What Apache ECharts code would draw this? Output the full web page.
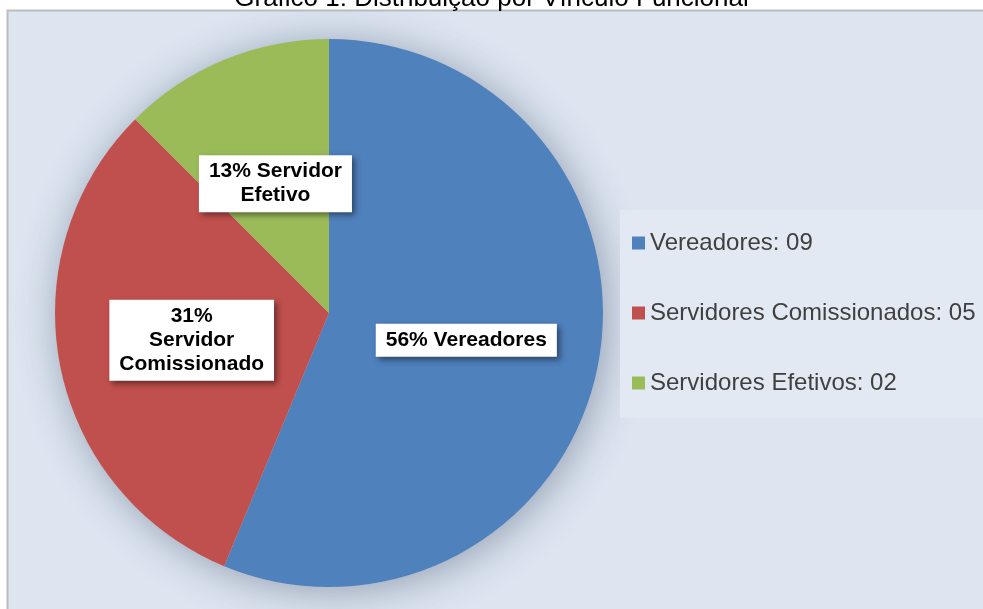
<!DOCTYPE html>
<html>
<head>
<meta charset="utf-8">
<script src="https://cdn.jsdelivr.net/npm/echarts@6/dist/echarts.min.js"></script>
<style>
  html, body { margin: 0; padding: 0; background: #fff; }
  #chart { width: 983px; height: 609px; }
</style>
</head>
<body>
<div id="chart"></div>
<script>
const categories = ['Vereadores', 'Servidores Comissionados', 'Servidores Efetivos'];
const values = [9, 5, 2];
const sliceLabels = ['56% Vereadores', '31%\nServidor\nComissionado', '13% Servidor\nEfetivo'];
const colors = ['#4f81bd', '#c0504d', '#9bbb59'];

const total = values.reduce((a, b) => a + b, 0);

const chart = echarts.init(document.getElementById('chart'));

const option = {
    backgroundColor: '#ffffff',
    title: {
        text: 'Gráfico 1: Distribuição por Vínculo Funcional',
        left: 'center',
        top: -19,
        textStyle: {
            fontFamily: 'Liberation Sans, Arial, sans-serif',
            fontSize: 26,
            fontWeight: 'normal',
            color: '#000'
        }
    },
    graphic: [
        {
            type: 'rect',
            z: -10,
            shape: { x: 7.5, y: 10.5, width: 990, height: 610 },
            style: { fill: '#dce5f0', stroke: '#bdbdbd', lineWidth: 2 }
        }
    ],
    legend: {
        orient: 'vertical',
        left: 620,
        top: 210,
        padding: [21, 60, 23, 12],
        backgroundColor: '#e3e9f2',
        itemWidth: 13,
        itemHeight: 13,
        itemGap: 46,
        icon: 'rect',
        data: categories,
        formatter: function (name) {
            const v = values[categories.indexOf(name)];
            return name + ': ' + String(v).padStart(2, '0');
        },
        textStyle: {
            fontFamily: 'Liberation Sans, Arial, sans-serif',
            fontSize: 24,
            lineHeight: 24,
            color: '#404040'
        }
    },
    series: [
        {
            // soft shadow behind the pie
            type: 'pie',
            silent: true,
            center: [329, 313],
            radius: 274,
            z: 1,
            label: { show: false },
            labelLine: { show: false },
            itemStyle: {
                color: '#c5cdd9',
                shadowBlur: 40,
                shadowColor: 'rgba(60,70,100,0.45)',
                shadowOffsetX: 4,
                shadowOffsetY: 4
            },
            data: [{ value: total, name: '' }],
            legendHoverLink: false,
            animation: false
        },
        {
            type: 'pie',
            center: [329, 313],
            radius: 274,
            startAngle: 90,
            clockwise: true,
            z: 2,
            animation: false,
            data: categories.map((c, i) => ({
                name: c,
                value: values[i],
                itemStyle: { color: colors[i] },
                label: { formatter: sliceLabels[i] }
            })),
            label: {
                show: true,
                position: 'inside',
                fontFamily: 'Liberation Sans, Arial, sans-serif',
                fontSize: 21,
                fontWeight: 'bold',
                lineHeight: 24,
                color: '#000',
                backgroundColor: '#fff',
                padding: [5, 10, 4, 10],
                shadowBlur: 6,
                shadowColor: 'rgba(0,0,0,0.45)',
                shadowOffsetX: 3,
                shadowOffsetY: 3
            },
            labelLine: { show: false }
        }
    ]
};

chart.setOption(option);
</script>
</body>
</html>
